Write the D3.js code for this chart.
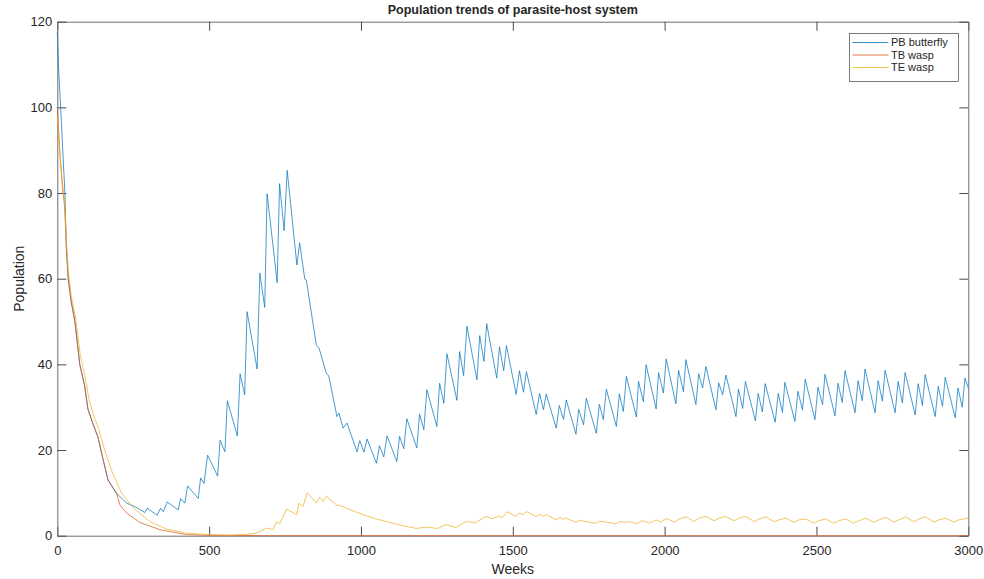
<!DOCTYPE html>
<html>
<head>
<meta charset="utf-8">
<script src="https://cdn.jsdelivr.net/npm/d3@7/dist/d3.min.js"></script>
<style>
  body { margin: 0; background: #fff; }
  text { font-family: "Liberation Sans", Arial, sans-serif; fill: #262626; }
</style>
</head>
<body>
<svg id="chart" width="984" height="579"></svg>
<script>
// values: [week, population]
var pbButterfly = [
  [0,117.7],[5,108],[11,100],[18,90],[25,80],[30,67],[36,60],[45,55],[58,50],[74,40],[90,35],[101,29.5],
  [118,26],[134,23],[145,19.5],[167,13],[193,10],[229,7.6],[255,6.8],
  [270,6.2],[288,5.4],[296,6.4],[329,4.8],[340,6.4],[349,5.6],[362,7.9],[398,6.0],[406,8.7],[420,7.6],
  [429,11.6],[464,8.7],[472,13.5],[483,12.2],[495,18.8],[528,13.9],[536,22.3],[552,19.6],[560,31.5],
  [593,23.3],[602,37.8],[617,32.9],[625,52.3],[658,38.9],[667,61.3],[683,53.3],[691,79.8],[724,59.1],
  [732,82.2],[747,71.2],[757,85.3],[789,63.2],[798,68.4],[815,59.9],[820,59.7],[853,44.5],[862,43.8],
  [886,37.9],[894,37.3],[921,27.8],[928,28.6],[941,25.1],[954,26.3],[987,19.6],[996,22.2],[1010,19.5],
  [1020,22.6],[1051,16.9],[1061,21.0],[1075,18.4],[1086,23.3],[1118,17.3],[1127,23.2],[1141,20.3],
  [1151,27.3],[1184,20.5],[1193,28.4],[1207,24.7],[1217,34.1],[1250,25.5],[1259,35.6],[1273,30.9],
  [1283,42.5],[1316,31.6],[1325,43.0],[1338,37.4],[1349,48.9],[1382,36.4],[1391,46.7],[1405,40.7],
  [1414,49.5],[1447,36.8],[1456,44.1],[1470,38.5],[1479,44.4],[1511,33.0],[1522,38.5],[1535,33.5],
  [1545,38.3],[1577,28.3],[1588,33.2],[1601,29.4],[1610,33.1],[1643,25.1],[1653,30.4],[1667,27.1],
  [1676,31.7],[1708,23.7],[1717,29.5],[1733,25.9],[1742,32.1],[1775,23.9],[1785,30.7],[1798,27.1],
  [1808,34.2],[1841,25.5],[1851,33.1],[1864,29.0],[1874,37.2],[1907,27.7],[1914,36.0],[1930,31.3],
  [1939,39.9],[1972,29.6],[1980,38.1],[1996,33.3],[2005,41.3],[2037,30.8],[2046,38.6],[2062,33.6],
  [2070,41.1],[2103,30.6],[2112,37.8],[2125,34.5],[2136,39.5],[2169,29.4],[2178,35.7],[2191,32.9],
  [2202,37.5],[2235,27.8],[2243,34.2],[2257,29.7],[2266,36.0],[2299,26.8],[2308,33.2],[2322,28.9],
  [2331,35.5],[2364,26.5],[2374,33.2],[2388,28.8],[2396,35.8],[2429,26.7],[2439,33.7],[2454,29.4],
  [2463,36.5],[2495,27.1],[2505,34.7],[2520,30.6],[2528,37.7],[2561,28.0],[2571,35.6],[2585,31.1],
  [2594,38.5],[2627,28.7],[2637,36.2],[2651,31.5],[2660,38.9],[2693,28.7],[2703,36.2],[2717,31.4],
  [2726,38.6],[2759,28.7],[2769,36.0],[2783,31.0],[2792,38.1],[2825,28.2],[2835,35.5],[2849,30.4],
  [2858,37.6],[2891,27.8],[2901,34.9],[2915,30.2],[2924,37.0],[2957,27.5],[2966,34.5],[2980,30.0],
  [2989,36.8],[3000,34.5]
]

var tbWasp = [
  [0,100],[8,90],[16,82],[24,77],[30,67],[36,60],[45,55],[58,50],[74,40],[90,35],[101,29.5],[118,26],
  [134,23],[145,19.5],[167,13],[195,10],[206,7.2],[228,5.3],[272,3.1],[338,1.4],[425,0.25],[500,0.08],
  [700,0.02],[3000,0]
]

var teWasp = [
  [0,98],[8,90],[16,83],[24,78],[30,69],[36,62],[46,56],[60,51],[76,42],[92,37],[104,32],[120,28],
  [136,25],[156,20],[180,15],[211,10],[250,6.5],[305,3.3],[360,1.55],[425,0.6],[490,0.3],[560,0.15],
  [620,0.3],[656,0.6],[689,1.8],[711,1.4],[722,3.3],[733,2.8],[755,6.2],[788,4.9],[796,7.6],[809,6.8],
  [823,10],[853,7.6],[864,9],[875,8],[886,9.2],[919,7.2],[941,6.8],[963,6.1],[1007,4.9],[1051,3.9],
  [1095,3.1],[1127,2.5],[1182,1.7],[1215,2.0],[1253,1.7],[1280,2.6],[1313,1.9],[1346,3.3],[1375,3.0],
  [1412,4.5],[1432,4.0],[1456,4.6],[1466,4.2],[1480,5.6],[1511,4.5],[1521,5.3],[1533,4.9],[1546,5.6],
  [1576,4.5],[1590,5.0],[1600,4.5],[1610,4.9],[1643,3.7],[1655,4.3],[1666,3.8],[1675,4.1],[1708,3.1],
  [1720,3.6],[1740,3.3],[1774,2.9],[1786,3.4],[1806,3.2],[1840,2.8],[1852,3.3],[1872,3.1],[1884,3.3],
  [1906,2.8],[1928,3.5],[1950,2.9],[1972,3.7],[1988,3.2],[2005,4.0],[2032,3.2],[2048,3.9],[2070,4.4],
  [2097,3.3],[2113,4.1],[2136,4.5],[2163,3.5],[2179,4.1],[2201,4.5],[2229,3.5],[2245,4.1],[2267,4.5],
  [2294,3.3],[2311,3.9],[2333,4.4],[2360,3.3],[2377,3.7],[2399,4.1],[2426,3.1],[2442,3.7],[2464,3.9],
  [2492,2.9],[2508,3.5],[2530,3.9],[2557,2.9],[2574,3.5],[2596,3.9],[2623,2.9],[2640,3.5],[2662,4.1],
  [2689,3.1],[2706,3.7],[2728,4.3],[2755,3.2],[2771,3.7],[2793,4.4],[2821,3.3],[2837,3.9],[2859,4.4],
  [2887,3.2],[2903,3.7],[2925,4.1],[2952,3.2],[2969,3.7],[3000,4.1]
]

var seriesNames = ["PB butterfly", "TB wasp", "TE wasp"]
var seriesColors = ["#0072BD", "#D95319", "#EDB120"]
var xTicks = [0, 500, 1000, 1500, 2000, 2500, 3000]
var yTicks = [0, 20, 40, 60, 80, 100, 120]

var svg = d3.select("#chart")
var box = { left: 57.3, right: 968.3, top: 21.7, bottom: 535.7 }

var x = d3.scaleLinear().domain([0, 3000]).range([box.left, box.right])
var y = d3.scaleLinear().domain([0, 120]).range([box.bottom, box.top])
var fmt = d3.format("d")

// matlab style: ticks inside, on all four sides
function styleAxis(g) {
  g.select(".domain").attr("stroke", "#6e6e6e")
  g.selectAll(".tick line").attr("stroke", "#4a4a4a")
  g.selectAll(".tick text").attr("fill", "#262626").style("font-size", "13px")
    .style("font-family", '"Liberation Sans", Arial, sans-serif')
}

svg.append("g").attr("transform", `translate(0,${box.bottom})`)
  .call(d3.axisBottom(x).tickValues(xTicks).tickFormat(fmt).tickSizeInner(-9).tickSizeOuter(0).tickPadding(10))
  .call(styleAxis)
svg.append("g").attr("transform", `translate(0,${box.top})`)
  .call(d3.axisTop(x).tickValues(xTicks).tickSizeInner(-9).tickSizeOuter(0).tickFormat(""))
  .call(styleAxis)
svg.append("g").attr("transform", `translate(${box.left},0)`)
  .call(d3.axisLeft(y).tickValues(yTicks).tickFormat(fmt).tickSizeInner(-9).tickSizeOuter(0).tickPadding(5))
  .call(styleAxis)
svg.append("g").attr("transform", `translate(${box.right},0)`)
  .call(d3.axisRight(y).tickValues(yTicks).tickSizeInner(-9).tickSizeOuter(0).tickFormat(""))
  .call(styleAxis)

var line = d3.line().x(d => x(d[0])).y(d => y(d[1]))

var allSeries = [pbButterfly, tbWasp, teWasp]
allSeries.forEach((s, i) => {
  svg.append("path").datum(s)
    .attr("fill", "none")
    .attr("stroke", seriesColors[i])
    .attr("stroke-width", 0.9)
    .attr("stroke-opacity", 0.8)
    .attr("stroke-linejoin", "round")
    .attr("d", line)
})

// title + labels
svg.append("text").attr("x", (box.left + box.right) / 2).attr("y", 14)
  .attr("text-anchor", "middle").style("font-size", "12.5px").style("font-weight", "bold")
  .text("Population trends of parasite-host system")
svg.append("text").attr("x", (box.left + box.right) / 2).attr("y", 574)
  .attr("text-anchor", "middle").style("font-size", "14px").text("Weeks")
svg.append("text").attr("transform", `translate(24,${(box.top + box.bottom) / 2}) rotate(-90)`)
  .attr("text-anchor", "middle").style("font-size", "14px").text("Population")

// legend
var lg = svg.append("g").attr("transform", "translate(849.5,33.5)")
lg.append("rect").attr("width", 109).attr("height", 48)
  .attr("fill", "#fff").attr("stroke", "#262626").attr("stroke-width", 0.6)
seriesNames.forEach((n, i) => {
  var ry = 9 + i * 12.5
  lg.append("line").attr("x1", 3).attr("x2", 39).attr("y1", ry).attr("y2", ry)
    .attr("stroke", seriesColors[i]).attr("stroke-width", 1).attr("stroke-opacity", 0.8)
  lg.append("text").attr("x", 41.5).attr("y", ry).attr("dy", "0.35em")
    .style("font-size", "11px").text(n)
})
</script>
</body>
</html>
